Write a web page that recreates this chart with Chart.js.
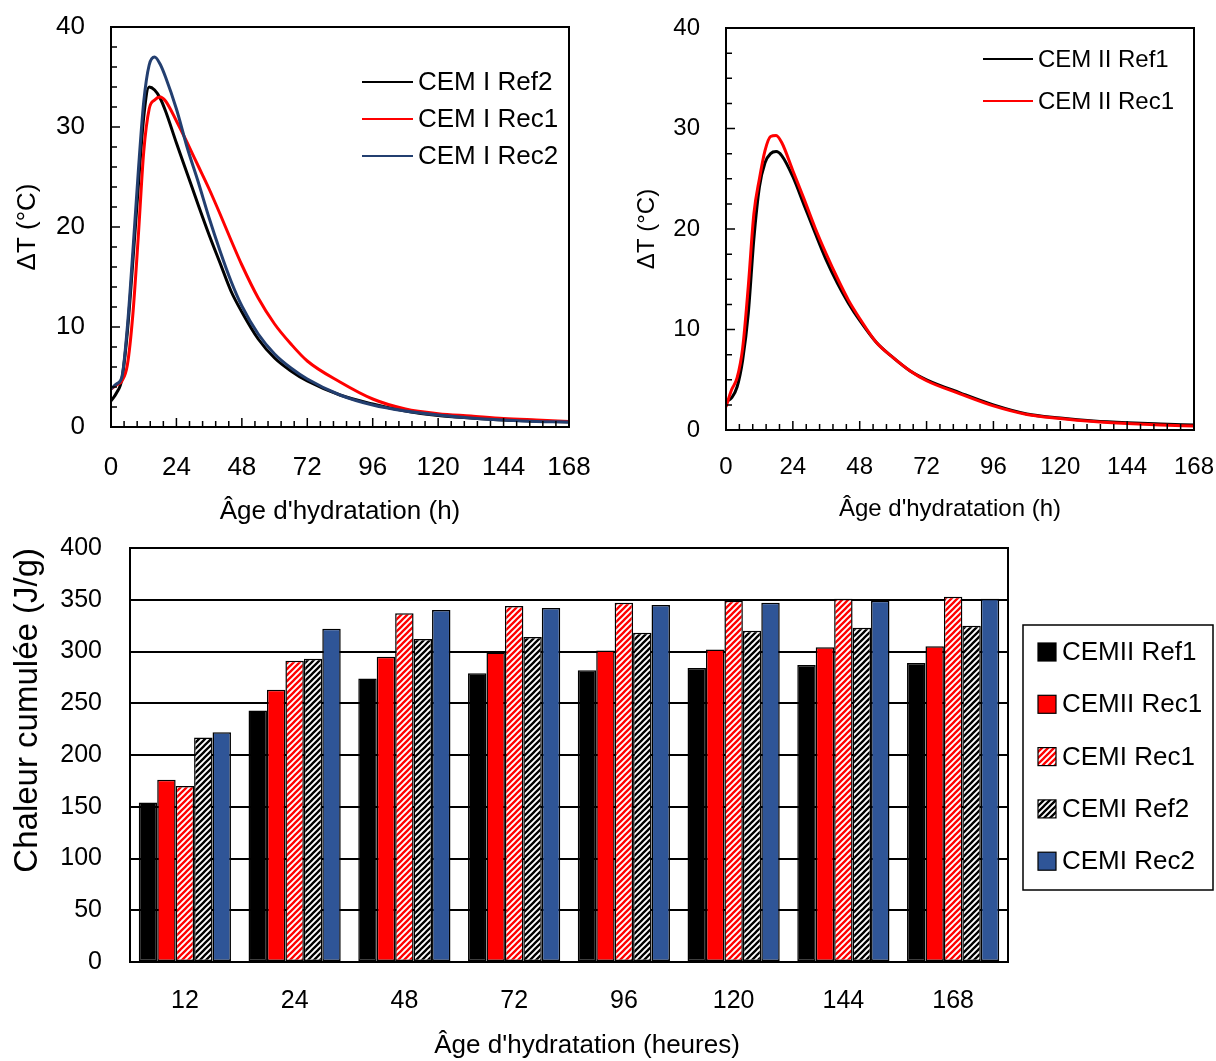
<!DOCTYPE html>
<html>
<head>
<meta charset="utf-8">
<script src="https://cdn.jsdelivr.net/npm/chart.js@4.4.1/dist/chart.umd.min.js"></script>
<style>
  html, body { margin: 0; padding: 0; background: #fff; }
  #wrap { position: relative; width: 1216px; height: 1061px; overflow: hidden; }
  .box { position: absolute; }
</style>
</head>
<body>
<div id="wrap">
  <div class="box" style="left:0;top:0;width:600px;height:530px"><canvas id="cemI"></canvas></div>
  <div class="box" style="left:610px;top:0;width:606px;height:530px"><canvas id="cemII"></canvas></div>
  <div class="box" style="left:0;top:530px;width:1216px;height:531px"><canvas id="heat"></canvas></div>
</div>
<script>
// --- data ---
const hours = [0, 2, 4, 6, 8, 10, 12, 14, 16, 18, 20, 24, 28, 32, 36, 40, 44, 48, 54, 60, 66, 72, 84, 96, 108, 120, 132, 144, 156, 168];

// top left: CEM I (delta T, °C)
const cemIRef2 = [2.6, 3.4, 4.8, 9.5, 16.5, 24.0, 31.0, 34.0, 33.7, 32.9, 31.6, 28.4, 25.3, 22.2, 19.2, 16.4, 13.6, 11.5, 8.8, 6.9, 5.6, 4.6, 3.2, 2.3, 1.6, 1.15, 0.9, 0.7, 0.6, 0.5];
const cemIRec1 = [3.8, 4.2, 4.6, 6.2, 11.2, 19.0, 27.5, 31.8, 32.7, 33.0, 32.6, 30.6, 28.4, 26.1, 23.8, 21.3, 18.7, 16.2, 12.9, 10.3, 8.3, 6.6, 4.5, 2.8, 1.8, 1.33, 1.1, 0.86, 0.7, 0.55];
const cemIRec2 = [3.8, 4.3, 5.0, 10.0, 17.5, 25.5, 32.5, 36.2, 37.0, 36.3, 35.0, 31.8, 27.9, 24.5, 20.9, 17.6, 14.6, 12.1, 9.3, 7.3, 5.9, 4.8, 3.2, 2.2, 1.6, 1.2, 0.9, 0.7, 0.55, 0.5];

// top right: CEM II (delta T, °C)
const cemIIRef1 = [2.8, 3.2, 4.3, 7.0, 11.6, 19.0, 24.2, 26.6, 27.5, 27.7, 27.3, 25.2, 22.4, 19.6, 16.9, 14.6, 12.6, 10.9, 8.7, 7.2, 5.9, 5.0, 3.7, 2.5, 1.6, 1.2, 0.9, 0.72, 0.6, 0.5];
const cemIIRec1 = [2.3, 4.0, 5.2, 8.2, 14.3, 21.5, 25.0, 27.8, 29.2, 29.3, 28.6, 25.8, 23.0, 20.1, 17.5, 15.1, 12.9, 11.1, 8.7, 7.2, 5.9, 4.9, 3.6, 2.4, 1.55, 1.15, 0.85, 0.65, 0.5, 0.4];

// bottom: cumulated heat (J/g)
const ages = ['12', '24', '48', '72', '96', '120', '144', '168'];
const heatCemIIRef1 = [154, 243, 274, 279, 282, 284, 287, 289];
const heatCemIIRec1 = [176, 263, 295, 299, 301, 302, 304, 305];
const heatCemIRec1  = [170, 291, 337, 344, 347, 349, 351, 353];
const heatCemIRef2  = [217, 293, 312, 314, 318, 320, 323, 325];
const heatCemIRec2  = [222, 322, 340, 342, 345, 347, 349, 351];

// --- fonts: the figure uses a narrow sans ---
function fontAvailable(name) {
  const g = document.createElement('canvas').getContext('2d');
  const s = 'CEMII Ref1 Âge 0123';
  g.font = '40px monospace';
  const a = g.measureText(s).width;
  g.font = '40px "' + name + '", monospace';
  return g.measureText(s).width !== a;
}
const NARROW = fontAvailable('Liberation Sans Narrow');
const FAMILY = NARROW ? '"Liberation Sans Narrow", "Arial Narrow", sans-serif' : '"Liberation Sans", Arial, sans-serif';
const fs = px => Math.round(px * (NARROW ? 1 : 0.84));
Chart.defaults.font.family = FAMILY;
Chart.defaults.color = '#000';

function pts(arr) { return hours.map((h, i) => ({ x: h, y: arr[i] })); }

function stripes(fg) {
  const s = 6, c = document.createElement('canvas');
  c.width = c.height = s;
  const g = c.getContext('2d');
  g.fillStyle = '#fff';
  g.fillRect(0, 0, s, s);
  g.strokeStyle = fg;
  g.lineWidth = 2.3;
  g.beginPath();
  g.moveTo(-1, s + 1); g.lineTo(s + 1, -1);
  g.moveTo(-s / 2 - 1, s / 2 + 1); g.lineTo(s / 2 + 1, -s / 2 - 1);
  g.moveTo(s / 2 - 1, s * 1.5 + 1); g.lineTo(s * 1.5 + 1, s / 2 - 1);
  g.stroke();
  return g.createPattern(c, 'repeat');
}

// frame around the plot + inward major/minor tick marks (Excel look)
const frameTicks = {
  id: 'frameTicks',
  afterDraw(chart, args, o) {
    const { ctx, chartArea: a, scales: { x, y } } = chart;
    ctx.save();
    ctx.strokeStyle = '#000';
    ctx.lineWidth = 2;
    ctx.strokeRect(a.left, a.top, a.right - a.left, a.bottom - a.top);
    if (o.xMinor) {
      ctx.lineWidth = 1.5;
      ctx.beginPath();
      const n = Math.round((x.max - x.min) / o.xMinor);
      for (let i = 0; i <= n; i++) {
        const v = x.min + i * o.xMinor;
        const px = x.getPixelForValue(v);
        const major = Math.abs(v / o.xMajor - Math.round(v / o.xMajor)) < 1e-6;
        ctx.moveTo(px, a.bottom);
        ctx.lineTo(px, a.bottom - (major ? 9 : 6));
      }
      const m = Math.round((y.max - y.min) / o.yMinor);
      for (let i = 0; i <= m; i++) {
        const v = y.min + i * o.yMinor;
        const py = y.getPixelForValue(v);
        const major = Math.abs(v / o.yMajor - Math.round(v / o.yMajor)) < 1e-6;
        ctx.moveTo(a.left, py);
        ctx.lineTo(a.left + (major ? 9 : 6), py);
      }
      ctx.stroke();
    }
    ctx.restore();
  }
};

// line legend drawn inside the plot
const lineLegend = {
  id: 'lineLegend',
  afterDraw(chart, args, o) {
    const ctx = chart.ctx;
    ctx.save();
    ctx.font = fs(o.size) + 'px ' + FAMILY;
    ctx.textBaseline = 'middle';
    ctx.textAlign = 'left';
    chart.data.datasets.forEach((ds, i) => {
      const yy = o.y + i * o.gap;
      ctx.strokeStyle = ds.borderColor;
      ctx.lineWidth = 2;
      ctx.beginPath();
      ctx.moveTo(o.x, yy);
      ctx.lineTo(o.x + o.len, yy);
      ctx.stroke();
      ctx.fillStyle = '#000';
      ctx.fillText(ds.label, o.x + o.len + 5, yy + 1);
    });
    ctx.restore();
  }
};

// boxed legend for the bar chart
const boxLegend = {
  id: 'boxLegend',
  afterDraw(chart, args, o) {
    const ctx = chart.ctx;
    ctx.save();
    ctx.strokeStyle = '#000';
    ctx.lineWidth = 1.5;
    ctx.strokeRect(o.left, o.top, o.width, o.height);
    ctx.font = fs(o.size) + 'px ' + FAMILY;
    ctx.textBaseline = 'middle';
    ctx.textAlign = 'left';
    chart.data.datasets.forEach((ds, i) => {
      const yy = o.first + i * o.gap;
      ctx.fillStyle = ds.backgroundColor;
      ctx.fillRect(o.left + 15, yy - 9, 18, 18);
      ctx.lineWidth = 1.2;
      ctx.strokeRect(o.left + 15, yy - 9, 18, 18);
      ctx.fillStyle = '#000';
      ctx.fillText(ds.label, o.left + 39, yy + 1);
    });
    ctx.restore();
  }
};

function lineScales(o) {
  const font = { size: fs(o.size), family: FAMILY };
  return {
    x: {
      type: 'linear', min: 0, max: 168,
      ticks: { stepSize: 24, padding: o.xPad, font, color: '#000', maxRotation: 0 },
      grid: { display: false, drawTicks: false },
      border: { display: false },
      title: { display: true, text: o.xTitle, font, color: '#000', padding: { top: 0, bottom: o.xTitlePad } },
      afterFit(s) { s.height = o.xHeight; s.paddingLeft = 0; s.paddingRight = 0; }
    },
    y: {
      type: 'linear', min: 0, max: 40,
      ticks: { stepSize: 10, padding: 26, font, color: '#000' },
      grid: { display: false, drawTicks: false },
      border: { display: false },
      title: { display: true, text: 'ΔT (°C)', font, color: '#000', padding: { top: o.yTitlePad, bottom: 0 } },
      afterFit(s) { s.width = o.yWidth; s.paddingTop = 0; s.paddingBottom = 0; }
    }
  };
}

function lineSet(label, data, color, order) {
  return {
    label, data: pts(data), borderColor: color, backgroundColor: color,
    borderWidth: 3, pointRadius: 0, cubicInterpolationMode: 'monotone', order
  };
}

new Chart(document.getElementById('cemI'), {
  type: 'line',
  data: {
    datasets: [
      lineSet('CEM I Ref2', cemIRef2, '#000000', 2),
      lineSet('CEM I Rec1', cemIRec1, '#ff0000', 1),
      lineSet('CEM I Rec2', cemIRec2, '#233f70', 0)
    ]
  },
  options: {
    responsive: true, maintainAspectRatio: false, animation: false,
    layout: { padding: { top: 27, right: 31, left: 0, bottom: 0 } },
    scales: lineScales({ size: 31, xPad: 25, xHeight: 103, xTitlePad: 3, yWidth: 111, yTitlePad: 12,
                         xTitle: "Âge d'hydratation (h)" }),
    plugins: {
      legend: { display: false }, tooltip: { enabled: false },
      frameTicks: { xMinor: 4.8, xMajor: 24, yMinor: 2, yMajor: 10 },
      lineLegend: { x: 362, y: 82, gap: 37, len: 51, size: 31 }
    }
  },
  plugins: [frameTicks, lineLegend]
});

new Chart(document.getElementById('cemII'), {
  type: 'line',
  data: {
    datasets: [
      lineSet('CEM II Ref1', cemIIRef1, '#000000', 1),
      lineSet('CEM II Rec1', cemIIRec1, '#ff0000', 0)
    ]
  },
  options: {
    responsive: true, maintainAspectRatio: false, animation: false,
    layout: { padding: { top: 28, right: 22, left: 0, bottom: 0 } },
    scales: lineScales({ size: 28, xPad: 23, xHeight: 100, xTitlePad: 6, yWidth: 116, yTitlePad: 23,
                         xTitle: "Âge d'hydratation (h)\u00a0\u00a0\u00a0" }),
    plugins: {
      legend: { display: false }, tooltip: { enabled: false },
      frameTicks: { xMinor: 4.8, xMajor: 24, yMinor: 2.5, yMajor: 10 },
      lineLegend: { x: 373, y: 59, gap: 42, len: 50, size: 28 }
    }
  },
  plugins: [frameTicks, lineLegend]
});

const barFont = { size: fs(30), family: FAMILY };
function barSet(label, data, fill) {
  return {
    label, data, backgroundColor: fill, borderColor: '#000', borderWidth: 1.5,
    borderSkipped: false, categoryPercentage: 0.84, barPercentage: 1.0
  };
}

new Chart(document.getElementById('heat'), {
  type: 'bar',
  data: {
    labels: ages,
    datasets: [
      barSet('CEMII Ref1', heatCemIIRef1, '#000000'),
      barSet('CEMII Rec1', heatCemIIRec1, '#ff0000'),
      barSet('CEMI Rec1', heatCemIRec1, stripes('#ff0000')),
      barSet('CEMI Ref2', heatCemIRef2, stripes('#000000')),
      barSet('CEMI Rec2', heatCemIRec2, '#2f5597')
    ]
  },
  options: {
    responsive: true, maintainAspectRatio: false, animation: false,
    layout: { padding: { top: 18, right: 208, left: 0, bottom: 0 } },
    scales: {
      x: {
        ticks: { padding: 24, font: barFont, color: '#000', maxRotation: 0 },
        grid: { display: false, drawTicks: false },
        border: { display: false },
        title: { display: true, text: "\u00a0\u00a0\u00a0\u00a0\u00a0Âge d'hydratation (heures)",
                 font: { size: fs(31), family: FAMILY }, color: '#000', padding: { top: 0, bottom: 0 } },
        afterFit(s) { s.height = 99; s.paddingLeft = 0; s.paddingRight = 0; }
      },
      y: {
        min: 0, max: 400,
        ticks: { stepSize: 50, padding: 28, font: barFont, color: '#000' },
        grid: { color: '#000', lineWidth: 2, drawTicks: false },
        border: { display: false },
        title: { display: true, text: 'Chaleur cumulée (J/g)', align: 'end',
                 font: { size: 33, family: FAMILY }, color: '#000', padding: { top: 8, bottom: 0 } },
        afterFit(s) { s.width = 130; s.paddingTop = 0; s.paddingBottom = 0; }
      }
    },
    plugins: {
      legend: { display: false }, tooltip: { enabled: false },
      frameTicks: {},
      boxLegend: { left: 1023, top: 95, width: 190, height: 265, first: 122, gap: 52.3, size: 31 }
    }
  },
  plugins: [frameTicks, boxLegend]
});
</script>
</body>
</html>
